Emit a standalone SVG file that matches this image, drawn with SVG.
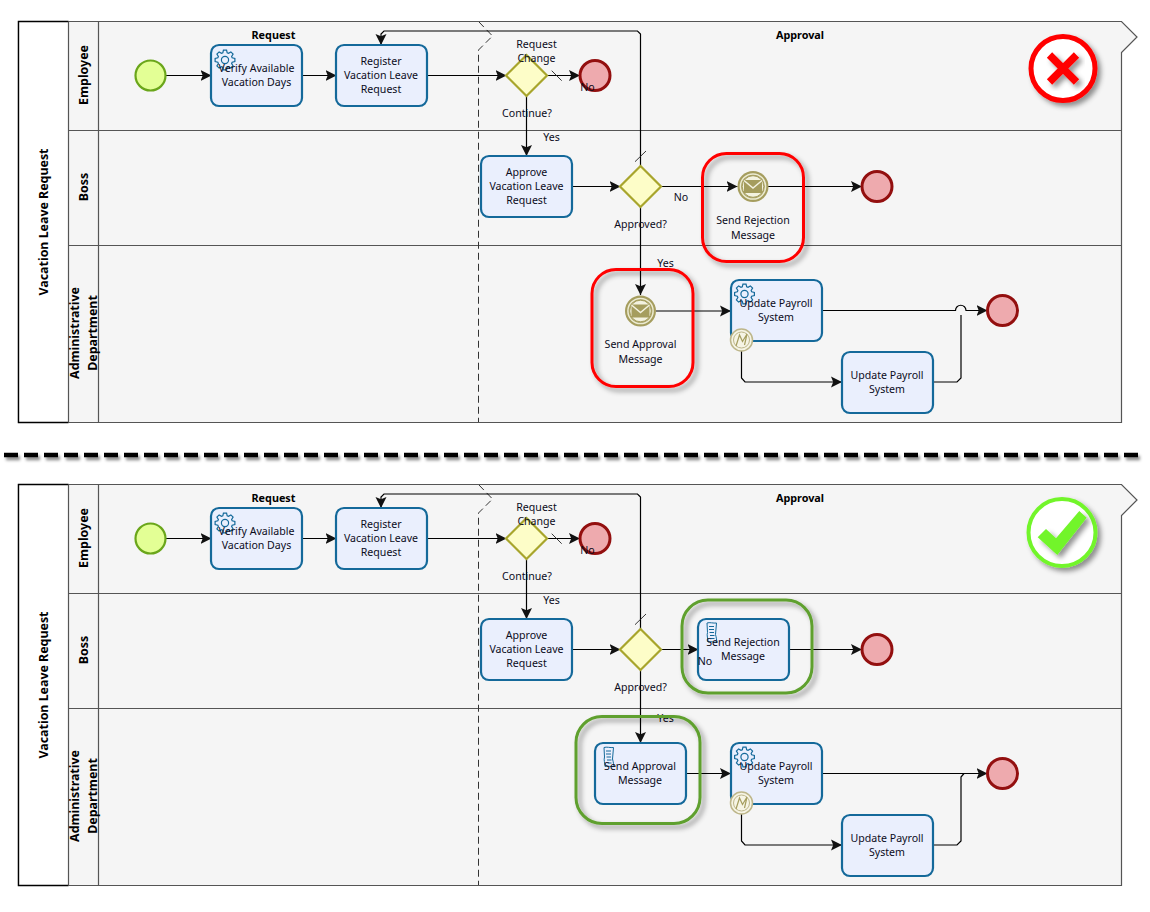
<svg xmlns="http://www.w3.org/2000/svg" width="1150" height="912" viewBox="0 0 1150 912">
<style>
text{font-family:"Noto Sans","Open Sans","DejaVu Sans",sans-serif;font-size:10.6px;fill:#0c0c1c;text-anchor:middle}
.b{font-weight:700;font-size:10.8px;fill:#000}
.h{font-weight:700;font-size:12.4px;fill:#000}
.pool{fill:#f5f5f5;stroke:#555;stroke-width:1.2}
.head{fill:#fff;stroke:#000;stroke-width:1.4}
.lane{fill:none;stroke:#555;stroke-width:1.2}
.sep{fill:none;stroke:#333;stroke-width:1;stroke-dasharray:7 4}
.task{fill:#eaeffd;stroke:#14699a;stroke-width:2.2}
.start{fill:#e3ff95;stroke:#6aa61a;stroke-width:2.2}
.end{fill:#eeaaae;stroke:#930f0f;stroke-width:3}
.gw{fill:#fdfdc8;stroke:#a8a52c;stroke-width:2.2}
.f{fill:none;stroke:#000;stroke-width:1.2;marker-end:url(#arr)}
.n{fill:none;stroke:#000;stroke-width:1.2}
.t{fill:none;stroke:#222;stroke-width:.9}
.red{fill:none;stroke:#f00;stroke-width:3;filter:url(#sh)}
.grn{fill:none;stroke:#5fa02e;stroke-width:3;filter:url(#sh)}
</style>
<defs>
<filter id="sh" x="-20%" y="-20%" width="150%" height="150%"><feDropShadow dx="3.500" dy="3.500" stdDeviation="2.500" flood-color="#000" flood-opacity=".42"/></filter>
<filter id="shline" filterUnits="userSpaceOnUse" x="0" y="445" width="1150" height="22"><feDropShadow dx="2" dy="3" stdDeviation="1.800" flood-color="#000" flood-opacity=".45"/></filter>
<marker id="arr" markerUnits="userSpaceOnUse" markerWidth="13" markerHeight="13" refX="11" refY="6" orient="auto"><path d="M0,0.500L11,6L0,11.500L2.200,6Z" fill="#111"/></marker>
<g id="gear"><path fill="none" stroke="#14699a" stroke-width="1.200" d="M-2.190,-7.170L-1.560,-9.880L1.560,-9.880L2.190,-7.170L3.520,-6.620L5.880,-8.090L8.090,-5.880L6.620,-3.520L7.170,-2.190L9.880,-1.560L9.880,1.560L7.170,2.190L6.620,3.520L8.090,5.880L5.880,8.090L3.520,6.620L2.190,7.170L1.560,9.880L-1.560,9.880L-2.190,7.170L-3.520,6.620L-5.880,8.090L-8.090,5.880L-6.620,3.520L-7.170,2.190L-9.880,1.560L-9.880,-1.560L-7.170,-2.190L-6.620,-3.520L-8.090,-5.880L-5.880,-8.090L-3.520,-6.620Z"/><circle r="3.600" fill="none" stroke="#14699a" stroke-width="1.200"/></g>
<g id="msg"><circle r="15.500" fill="#a59d5e"/><circle r="12.600" fill="none" stroke="#ecebd2" stroke-width="1.500"/><circle r="10.800" fill="#f3f2e0" stroke="#a59d5e" stroke-width="1"/><path d="M-9,-6.500H9V6.500H-9Z" fill="#a59d5e"/><path d="M-9,-6L0,1.500L9,-6" fill="none" stroke="#f3f2e0" stroke-width="1.500"/></g>
<g id="err"><circle r="11" fill="#f6f4e4" stroke="#bdb68a" stroke-width="1.500"/><circle r="8" fill="none" stroke="#bdb68a" stroke-width="1"/><path d="M-5.500,6L-2,-5L1,1.500L5.500,-6L3,5" fill="none" stroke="#a59d5e" stroke-width="1.200"/></g>
<g id="doc"><path d="M-4.500,-9.500C-2,-10.500,2,-9,5,-9.500L4,2C5,5,5,8,5.500,9.500C2,10,-1,8.500,-3.500,9.500C-3.500,6,-5,3,-4,0Z" fill="#eaeffd" stroke="#14699a"/><path d="M-2.500,-6H2.500M-2.500,-3H2.500M-2,0H2.500M-1.500,3H3M-1,6H3" stroke="#14699a" fill="none"/></g>
</defs>

<g id="top-pool">
<path class="pool" d="M18.500,21.500H1121.500L1137,37L1121.500,52.500V422.500H18.500Z"/>
<path class="head" d="M68.500,21.500H18.500V422.500H68.500"/>
<path class="lane" d="M68.500,21.500V422.500M98.500,21.500V422.500M68.500,130.500H1121.500M68.500,245.500H1121.500"/>
<path class="sep" d="M479,22L492.500,36L478.500,50V422"/>
<text class="h" transform="translate(47.500,222) rotate(-90)">Vacation Leave Request</text>
<text class="h" transform="translate(87.500,75) rotate(-90)">Employee</text>
<text class="h" transform="translate(87.500,187) rotate(-90)">Boss</text>
<text class="h" transform="translate(78.500,333) rotate(-90)">Administrative</text>
<text class="h" transform="translate(96.500,333) rotate(-90)">Department</text>
<text class="b" x="273.500" y="39">Request</text>
<text class="b" x="800" y="39">Approval</text>
</g>
<g id="top-connectors">
<path class="f" d="M166,75.500H211.500"/>
<path class="f" d="M302,75.500H336.500"/>
<path class="f" d="M427,75.500H506.500"/>
<path class="f" d="M547,75.500H580"/>
<path class="t" d="M551.700,70.700L561.700,80.700"/>
<path class="f" d="M526.500,96V156"/>
<path class="f" d="M572,186.500H620.500"/>
<path class="f" d="M661,186.500H737.500"/>
<path class="n" d="M768,186.500H862"/>
<path class="f" d="M800,186.500H862"/>
<path class="f" d="M640.500,207V295"/>
<path class="f" d="M640.500,166V34L637.500,31H384L381,34V45"/>
<path class="t" d="M635,161.700L646,151"/>
<path class="f" d="M656,311H731"/>
<path class="f" d="M822,310.500H955.500A5,5,0,0,1,966,310.500H987.500"/>
<path class="f" d="M741.500,351V378L745,382H842"/>
<path class="n" d="M933,382H957L961,378V315"/>
</g>
<g id="top-start"><circle class="start" cx="150.500" cy="75.500" r="15"/></g>
<g id="top-verify"><rect class="task" x="211" y="45" width="91" height="61" rx="8"/><use href="#gear" x="225" y="60"/><text x="256.500" y="72">Verify Available</text><text x="256.500" y="86">Vacation Days</text></g>
<g id="top-register"><rect class="task" x="336" y="45" width="91" height="61" rx="8"/><text x="381" y="65">Register</text><text x="381" y="79">Vacation Leave</text><text x="381" y="93">Request</text></g>
<g id="top-continue"><path class="gw" d="M526.500,55L547,75.500L526.500,96L506,75.500Z"/><text x="536.500" y="48">Request</text><text x="536.500" y="62">Change</text><text x="527" y="117">Continue?</text></g>
<g id="top-end1"><circle class="end" cx="595" cy="75.500" r="15"/><text x="587.500" y="91">No</text></g>
<text x="551.500" y="141">Yes</text>
<g id="top-approve"><rect class="task" x="481" y="156" width="91" height="61" rx="8"/><text x="526.500" y="176">Approve</text><text x="526.500" y="190">Vacation Leave</text><text x="526.500" y="204">Request</text></g>
<g id="top-approved"><path class="gw" d="M640.500,166L661,186.500L640.500,207L620,186.500Z"/><text x="640.500" y="228">Approved?</text></g>
<text x="681" y="201">No</text>
<text x="665.500" y="267">Yes</text>
<g id="top-rejection"><rect class="red" x="702.500" y="153.500" width="101" height="108" rx="24"/><use href="#msg" x="753" y="186.500"/><text x="753" y="224">Send Rejection</text><text x="753" y="239">Message</text></g>
<g id="top-end2"><circle class="end" cx="877" cy="186.500" r="15"/></g>
<g id="top-approval"><rect class="red" x="592" y="269.500" width="101" height="117" rx="24"/><use href="#msg" x="640.500" y="311"/><text x="640.500" y="348">Send Approval</text><text x="640.500" y="363">Message</text></g>
<g id="top-payroll"><rect class="task" x="731" y="280" width="91" height="61" rx="8"/><use href="#gear" x="744.500" y="294"/><text x="776" y="307">Update Payroll</text><text x="776" y="321">System</text><use href="#err" x="741.500" y="340"/></g>
<g id="top-payroll2"><rect class="task" x="842" y="352" width="91" height="61" rx="8"/><text x="887" y="379">Update Payroll</text><text x="887" y="393">System</text></g>
<g id="top-end3"><circle class="end" cx="1002.500" cy="310.500" r="15"/></g>
<g id="top-cross"><circle cx="1063" cy="68.500" r="32" fill="#fff" stroke="#f00" stroke-width="5" filter="url(#sh)"/><path d="M1049.500,55L1076.500,82M1076.500,55L1049.500,82" stroke="#f00" stroke-width="7.500" fill="none" filter="url(#sh)"/></g>

<path id="divider" d="M4,455H1141" stroke="#000" stroke-width="4.500" stroke-dasharray="14 6" fill="none" filter="url(#shline)"/>

<g id="bot-pool">
<path class="pool" d="M18.500,484.500H1121.500L1137,500L1121.500,515.500V885.500H18.500Z"/>
<path class="head" d="M68.500,484.500H18.500V885.500H68.500"/>
<path class="lane" d="M68.500,484.500V885.500M98.500,484.500V885.500M68.500,593.500H1121.500M68.500,708.500H1121.500"/>
<path class="sep" d="M479,485L492.500,499L478.500,513V885"/>
<text class="h" transform="translate(47.500,685) rotate(-90)">Vacation Leave Request</text>
<text class="h" transform="translate(87.500,538) rotate(-90)">Employee</text>
<text class="h" transform="translate(87.500,650) rotate(-90)">Boss</text>
<text class="h" transform="translate(78.500,796) rotate(-90)">Administrative</text>
<text class="h" transform="translate(96.500,796) rotate(-90)">Department</text>
<text class="b" x="273.500" y="502">Request</text>
<text class="b" x="800" y="502">Approval</text>
</g>
<g id="bot-connectors">
<path class="f" d="M166,538.500H211.500"/>
<path class="f" d="M302,538.500H336.500"/>
<path class="f" d="M427,538.500H506.500"/>
<path class="f" d="M547,538.500H580"/>
<path class="t" d="M551.700,533.700L561.700,543.700"/>
<path class="f" d="M526.500,559V619"/>
<path class="f" d="M572,649.500H620.500"/>
<path class="f" d="M661,649.500H698.500"/>
<path class="f" d="M789,649.500H862"/>
<path class="f" d="M640.500,670V743"/>
<path class="f" d="M640.500,629V497L637.500,494H384L381,497V508"/>
<path class="t" d="M635,624.700L646,614"/>
<path class="f" d="M686,773.500H731"/>
<path class="f" d="M822,773.500H987.500"/>
<path class="f" d="M741.500,814V841L745,845H842"/>
<path class="n" d="M933,845H957L961,841V777L964,773.500"/>
</g>
<g id="bot-start"><circle class="start" cx="150.500" cy="538.500" r="15"/></g>
<g id="bot-verify"><rect class="task" x="211" y="508" width="91" height="61" rx="8"/><use href="#gear" x="225" y="523"/><text x="256.500" y="535">Verify Available</text><text x="256.500" y="549">Vacation Days</text></g>
<g id="bot-register"><rect class="task" x="336" y="508" width="91" height="61" rx="8"/><text x="381" y="528">Register</text><text x="381" y="542">Vacation Leave</text><text x="381" y="556">Request</text></g>
<g id="bot-continue"><path class="gw" d="M526.500,518L547,538.500L526.500,559L506,538.500Z"/><text x="536.500" y="511">Request</text><text x="536.500" y="525">Change</text><text x="527" y="580">Continue?</text></g>
<g id="bot-end1"><circle class="end" cx="595" cy="538.500" r="15"/><text x="587.500" y="554">No</text></g>
<text x="551.500" y="604">Yes</text>
<g id="bot-approve"><rect class="task" x="481" y="619" width="91" height="61" rx="8"/><text x="526.500" y="639">Approve</text><text x="526.500" y="653">Vacation Leave</text><text x="526.500" y="667">Request</text></g>
<g id="bot-approved"><path class="gw" d="M640.500,629L661,649.500L640.500,670L620,649.500Z"/><text x="640.500" y="691">Approved?</text></g>
<g id="bot-rejection"><rect class="grn" x="682" y="600" width="130" height="93" rx="26"/><rect class="task" x="698" y="619" width="91" height="61" rx="8"/><use href="#doc" x="711.500" y="632.500"/><text x="743" y="646">Send Rejection</text><text x="743" y="660">Message</text></g>
<text x="705" y="665">No</text>
<text x="665.500" y="722">Yes</text>
<g id="bot-end2"><circle class="end" cx="877" cy="649.500" r="15"/></g>
<g id="bot-approval"><rect class="grn" x="576" y="716.500" width="124" height="107" rx="26"/><rect class="task" x="595" y="743" width="91" height="61" rx="8"/><use href="#doc" x="608.500" y="757"/><text x="640" y="770">Send Approval</text><text x="640" y="784">Message</text></g>
<g id="bot-payroll"><rect class="task" x="731" y="743" width="91" height="61" rx="8"/><use href="#gear" x="744.500" y="757"/><text x="776" y="770">Update Payroll</text><text x="776" y="784">System</text><use href="#err" x="741.500" y="803"/></g>
<g id="bot-payroll2"><rect class="task" x="842" y="815" width="91" height="61" rx="8"/><text x="887" y="842">Update Payroll</text><text x="887" y="856">System</text></g>
<g id="bot-end3"><circle class="end" cx="1002.500" cy="773.500" r="15"/></g>
<g id="bot-check"><circle cx="1062" cy="532.500" r="33.500" fill="#fff" stroke="#72f52a" stroke-width="4" filter="url(#sh)"/><path d="M1037.700,537.300L1046,529L1056,538.300L1079.300,511L1086.700,517.700L1057.300,555Z" fill="#72f52a" filter="url(#sh)"/></g>
</svg>
